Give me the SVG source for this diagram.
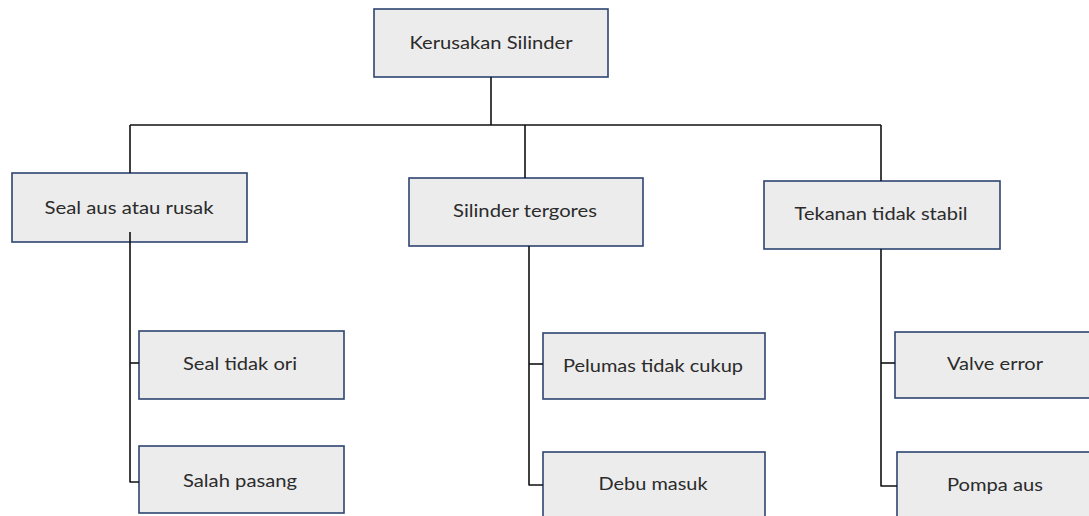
<svg xmlns="http://www.w3.org/2000/svg" width="1089" height="516" viewBox="0 0 1089 516">
<style>
.box{fill:#ececec;stroke:#2e4470;stroke-width:1.6}
.t{font-family:Lato,"Open Sans",sans-serif;font-size:18px;fill:#2b2b2b;text-anchor:middle}
.c{fill:none;stroke:#111;stroke-width:1.6;stroke-linejoin:round}
</style>
<rect width="1089" height="516" fill="#fff"/>
<g id="n-root"><rect class="box" x="374" y="9" width="234" height="68"/><text class="t" x="491" y="49" textLength="163" lengthAdjust="spacingAndGlyphs">Kerusakan Silinder</text></g>
<g id="n-seal"><rect class="box" x="12" y="173" width="235" height="69"/><text class="t" x="129" y="214" textLength="169" lengthAdjust="spacingAndGlyphs">Seal aus atau rusak</text></g>
<g id="n-silinder"><rect class="box" x="409" y="178" width="234" height="68"/><text class="t" x="525" y="217" textLength="144" lengthAdjust="spacingAndGlyphs">Silinder tergores</text></g>
<g id="n-tekanan"><rect class="box" x="764" y="181" width="236" height="68"/><text class="t" x="881" y="220" textLength="173" lengthAdjust="spacingAndGlyphs">Tekanan tidak stabil</text></g>
<g id="n-sealori"><rect class="box" x="139" y="331" width="205" height="68"/><text class="t" x="240" y="370" textLength="114" lengthAdjust="spacingAndGlyphs">Seal tidak ori</text></g>
<g id="n-salah"><rect class="box" x="139" y="446" width="205" height="67"/><text class="t" x="240" y="487" textLength="114" lengthAdjust="spacingAndGlyphs">Salah pasang</text></g>
<g id="n-pelumas"><rect class="box" x="543" y="333" width="222" height="66"/><text class="t" x="653" y="372" textLength="180" lengthAdjust="spacingAndGlyphs">Pelumas tidak cukup</text></g>
<g id="n-debu"><rect class="box" x="543" y="452" width="222" height="80"/><text class="t" x="653" y="490" textLength="109" lengthAdjust="spacingAndGlyphs">Debu masuk</text></g>
<g id="n-valve"><rect class="box" x="895" y="332" width="210" height="66"/><text class="t" x="995" y="370" textLength="96" lengthAdjust="spacingAndGlyphs">Valve error</text></g>
<g id="n-pompa"><rect class="box" x="897" y="452" width="210" height="80"/><text class="t" x="995" y="491" textLength="96" lengthAdjust="spacingAndGlyphs">Pompa aus</text></g>
<g id="connectors">
<path class="c" d="M491 77V125"/>
<path class="c" d="M130 125H881"/>
<path class="c" d="M130 125V173"/>
<path class="c" d="M525 125V178"/>
<path class="c" d="M881 125V181"/>
<path class="c" d="M130 232V482H139"/>
<path class="c" d="M130 363H139"/>
<path class="c" d="M529 246V485H543"/>
<path class="c" d="M529 364H543"/>
<path class="c" d="M881 249V486H897"/>
<path class="c" d="M881 363H895"/>
</g>
</svg>
